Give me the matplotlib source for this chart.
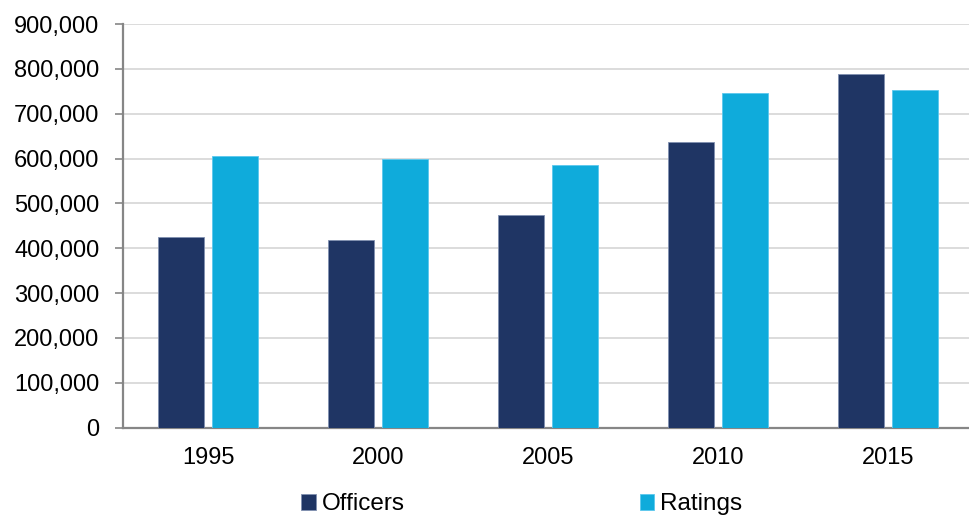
import numpy as np
import matplotlib.pyplot as plt
from matplotlib.ticker import FuncFormatter

plt.rcParams['font.family'] = ['Liberation Sans', 'DejaVu Sans']

years = ['1995', '2000', '2005', '2010', '2015']
officers = [426000, 419000, 475000, 636000, 789000]
ratings = [605000, 598000, 585000, 746000, 754000]

officer_color = '#1f3564'
rating_color = '#0fabdb'
axis_grey = '#868686'

fig = plt.figure(figsize=(9.7, 5.2), dpi=100)
ax = fig.add_axes([0.1268, 0.1775, 0.8732, 0.7763])

x = np.arange(len(years))
width = 0.27
off = 0.157

ax.bar(x - off, officers, width, color=officer_color, edgecolor='#8090b0',
       linewidth=0.6, label='Officers', zorder=3)
ax.bar(x + off, ratings, width, color=rating_color, edgecolor='#5cc8ee',
       linewidth=0.6, label='Ratings', zorder=3)

ax.set_ylim(0, 900000)
ax.set_yticks(np.arange(0, 900001, 100000))
ax.yaxis.set_major_formatter(FuncFormatter(lambda v, p: f'{int(v):,}'))
ax.set_xlim(-0.5, 4.482)
ax.set_xticks(x)
ax.set_xticklabels(years)

ax.grid(axis='y', color='#d9d9d9', linewidth=1.3, zorder=0)
ax.set_axisbelow(True)

for side in ('top', 'right'):
    ax.spines[side].set_visible(False)
for side in ('left', 'bottom'):
    ax.spines[side].set_color(axis_grey)
    ax.spines[side].set_linewidth(1.6)

ax.tick_params(axis='y', length=6, width=1.2, color=axis_grey,
               labelsize=17, pad=11)
ax.tick_params(axis='x', length=0, labelsize=17, pad=14)

fig.legend(loc='center', bbox_to_anchor=(0.538, 0.03), ncol=2,
           frameon=False, fontsize=17.5, handlelength=0.6,
           handleheight=0.6, handletextpad=0.25, columnspacing=9.67)

fig.savefig('out.png', dpi=100)
